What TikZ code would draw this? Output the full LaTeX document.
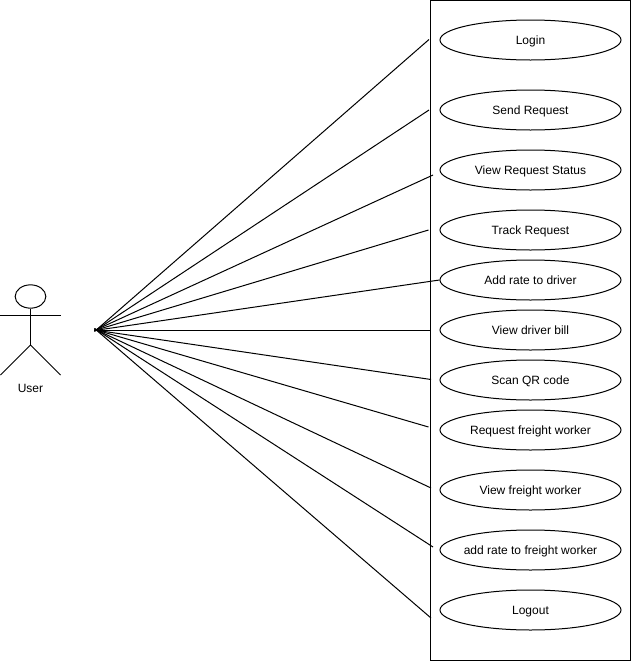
\documentclass[tikz,border=0pt]{standalone}
\usepackage{fontspec}
\setmainfont{Liberation Sans}
\usetikzlibrary{shapes.geometric}
\newcommand{\uctext}[1]{\makebox[0pt][c]{#1}}
\tikzset{
  usecase/.style={draw=black,fill=white,ellipse,line width=0.75pt,minimum width=135.75pt,minimum height=30pt,inner sep=0pt,text height=7.5pt,text depth=1.5pt,font=\fontsize{9}{11}\selectfont,text=black},
  wire/.style={draw=black,line width=0.75pt},
  actorline/.style={draw=black,line width=0.75pt},
}
\begin{document}
\begin{tikzpicture}[x=0.75pt,y=-0.75pt]
\useasboundingbox (0,0) rectangle (631,661);
\fill[white] (0,0) rectangle (631,661);
\draw[actorline] (430.5,0.5) rectangle (630.5,660.5);
% actor
\node[draw=black,ellipse,line width=0.75pt,minimum width=23pt,minimum height=17.5pt,inner sep=0pt] (head) at (30.5,296.5) {};
\coordinate (hip) at (30.5,345);
\coordinate (armL) at (0.5,315);
\coordinate (armR) at (60.5,315);
\coordinate (legL) at (0.5,375);
\coordinate (legR) at (60.5,375);
\draw[actorline] (head.south) -- (hip);
\draw[actorline] (armL) -- (armR);
\draw[actorline] (legL) -- (hip) -- (legR);
\node[font=\fontsize{9}{11}\selectfont] (user) at (30.5,388.5) {User};
% use cases
\node[usecase] (u1) at (530.5,40) {\uctext{Login}};
\node[usecase] (u2) at (530.5,110) {\uctext{Send Request}};
\node[usecase] (u3) at (530.5,170) {\uctext{View Request Status}};
\node[usecase] (u4) at (530.5,230) {\uctext{Track Request}};
\node[usecase] (u5) at (530.5,280) {\uctext{Add rate to driver}};
\node[usecase] (u6) at (530.5,330) {\uctext{View driver bill}};
\node[usecase] (u7) at (530.5,380) {\uctext{Scan QR code}};
\node[usecase] (u8) at (530.5,430) {\uctext{Request freight worker}};
\node[usecase] (u9) at (530.5,490) {\uctext{View freight worker}};
\node[usecase] (u10) at (530.5,550) {\uctext{add rate to freight worker}};
\node[usecase] (u11) at (530.5,610) {\uctext{Logout}};
% connectors
\coordinate (e1) at (429,39.5);
\coordinate (e2) at (429,110);
\coordinate (e3) at (433,175);
\coordinate (e4) at (428.5,230);
\coordinate (e6) at (430.5,330);
\coordinate (e7) at (431,379.5);
\coordinate (e8) at (428.5,427);
\coordinate (e9) at (431,488);
\coordinate (e10) at (433,547);
\coordinate (e11) at (431,618);
\foreach \s/\e in {331.5/e1,331/e2,330.5/e3,330.5/e4,330/e6,330/e7,329.5/e8,329/e9,328.5/e10,328.5/e11}
  \draw[wire] (94.5,\s) -- (\e);
\draw[wire] (94.5,330.5) -- (u5.west);
\end{tikzpicture}
\end{document}
